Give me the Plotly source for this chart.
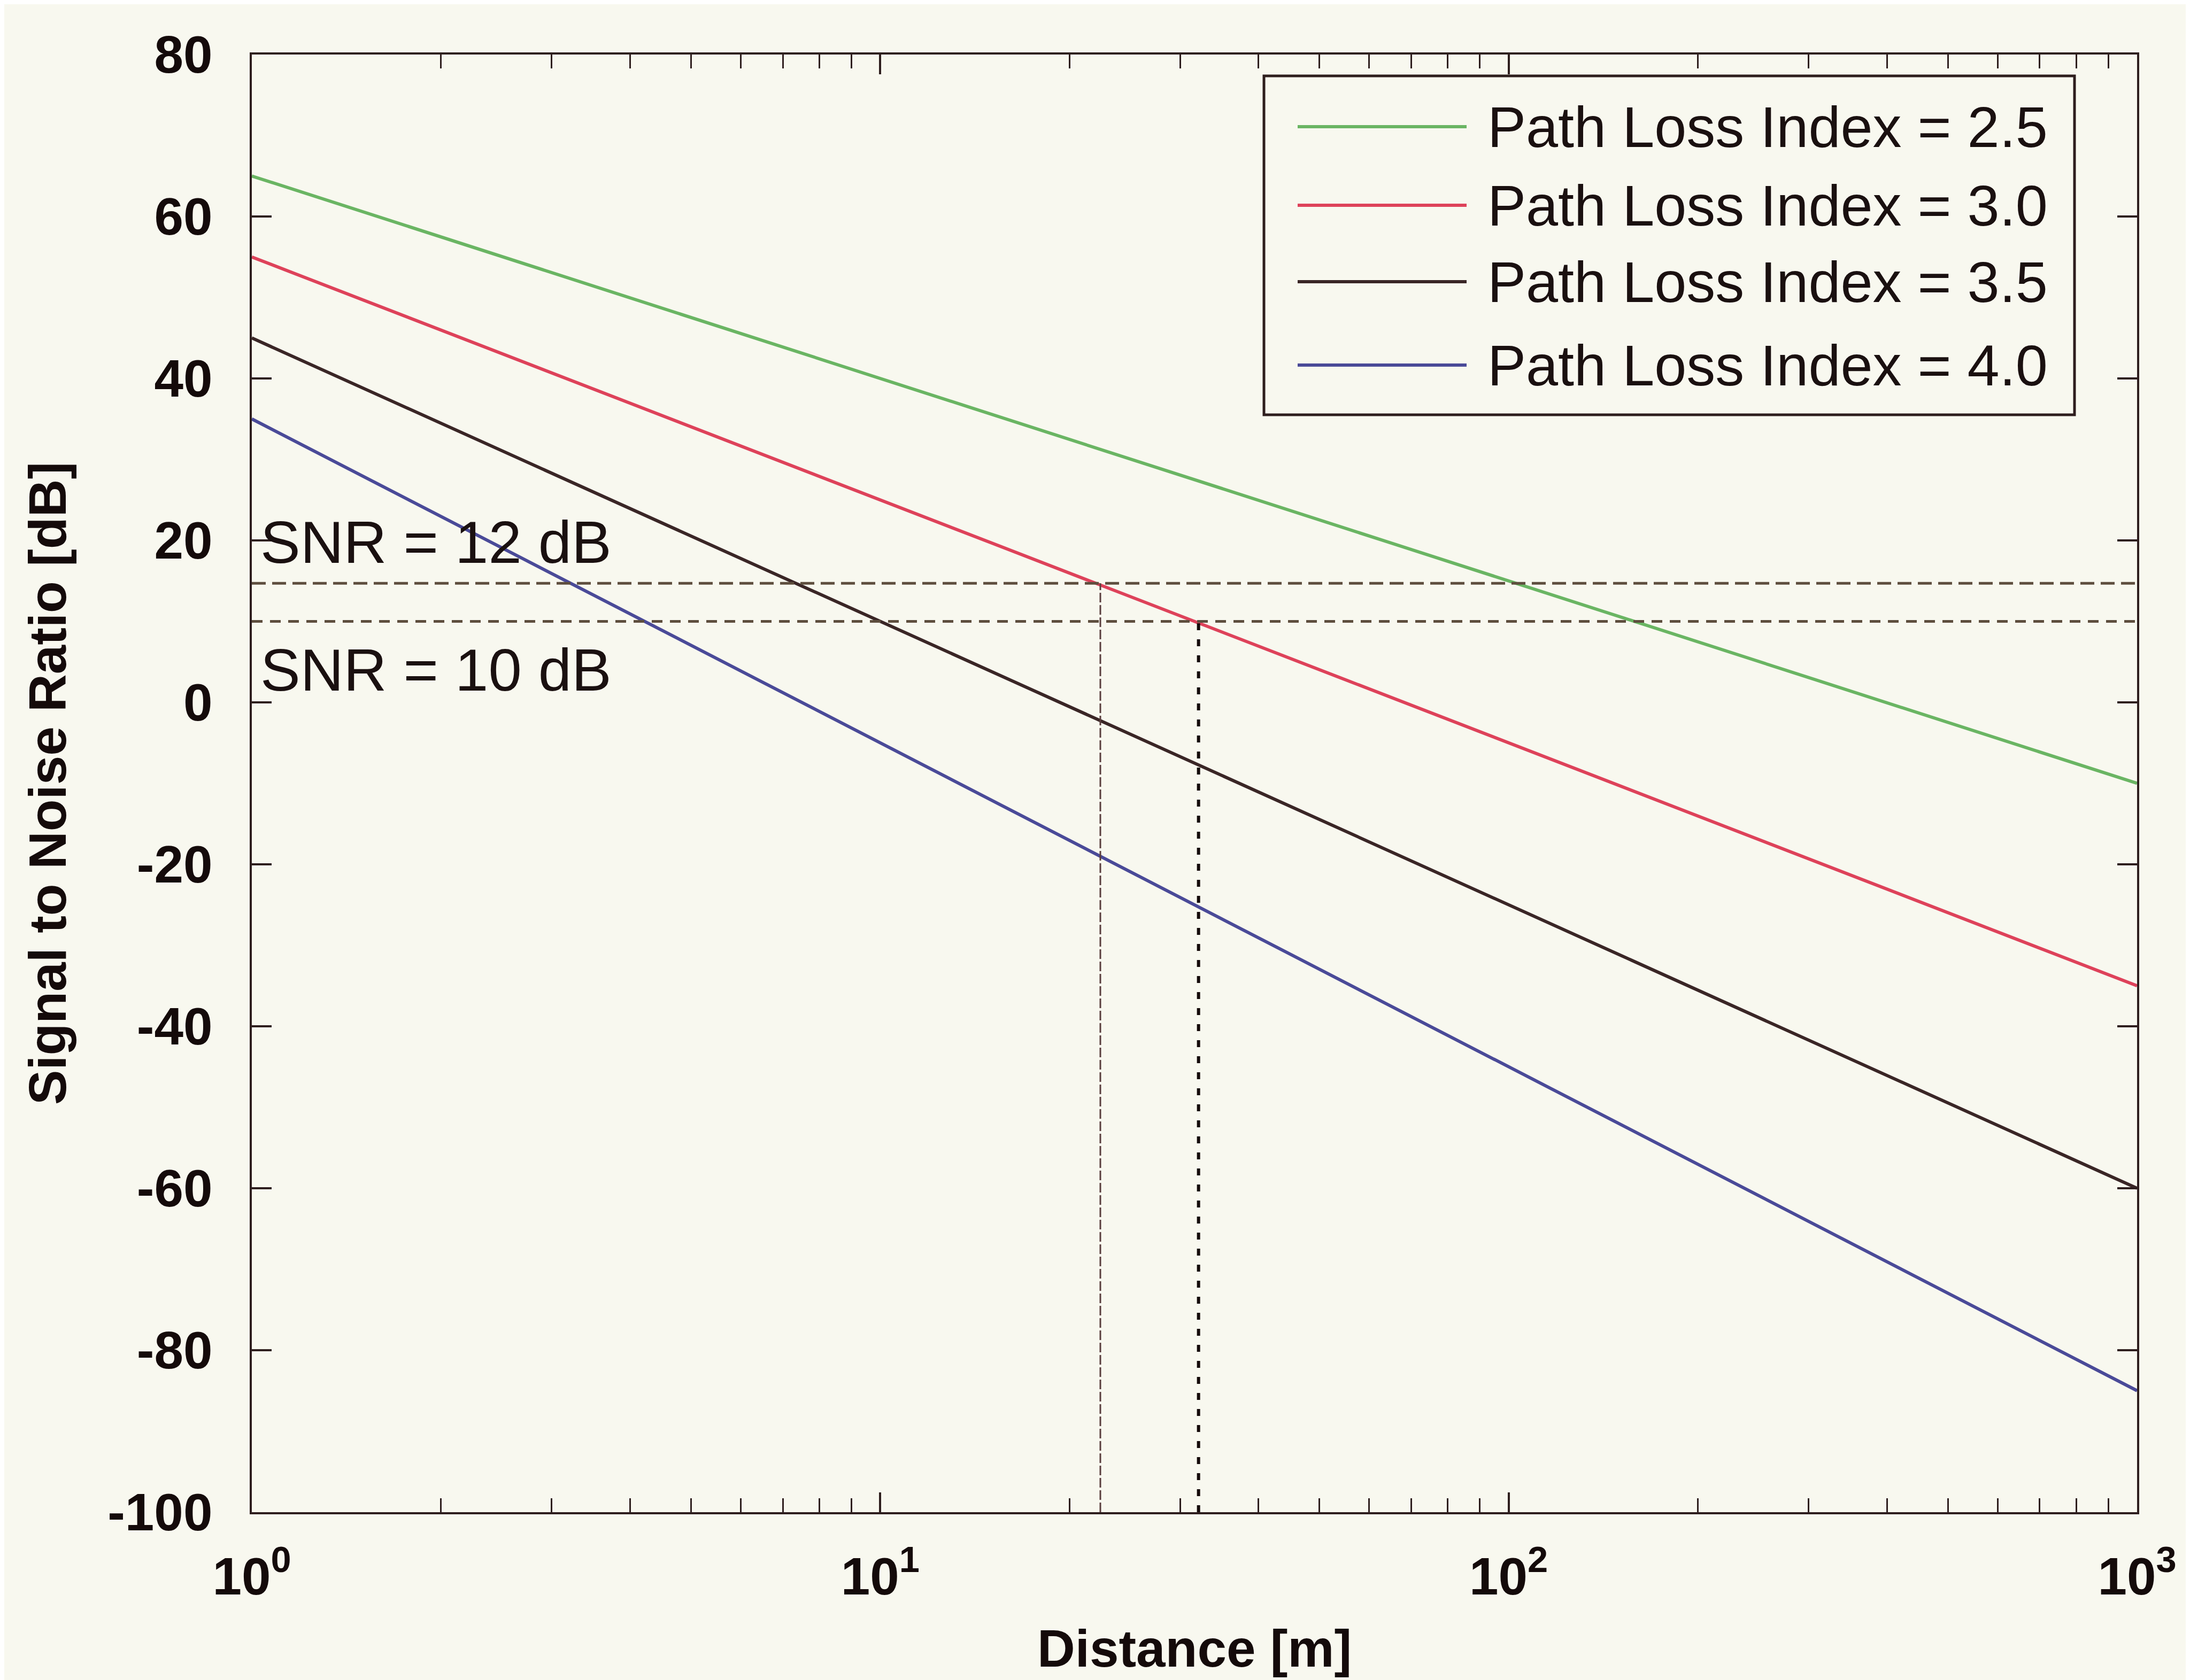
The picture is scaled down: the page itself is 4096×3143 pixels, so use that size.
import plotly.graph_objects as go

# ---------------- data ----------------
distance = [1, 10, 100, 1000]
series_names = ["Path Loss Index = 2.5", "Path Loss Index = 3.0",
                "Path Loss Index = 3.5", "Path Loss Index = 4.0"]
snr_n25 = [65, 40, 15, -10]
snr_n30 = [55, 25, -5, -35]
snr_n35 = [45, 10, -25, -60]
snr_n40 = [35, -5, -45, -85]
series_values = [snr_n25, snr_n30, snr_n35, snr_n40]
series_colors = ["#6ab563", "#de425a", "#3a2626", "#4a4a98"]

# threshold lines
thr_upper = 14.7          # line labelled "SNR = 12 dB"
thr_lower = 10.0          # line labelled "SNR = 10 dB"
thr_labels = ["SNR = 12 dB", "SNR = 10 dB"]
thr_label_y = [19.8, 4.0]
cross_upper_d = 22.4      # thin vertical line
cross_lower_d = 32.1      # thick dotted vertical line

x_tickvals = [1, 10, 100, 1000]
x_ticktext = ["10<sup>0</sup>", "10<sup>1</sup>", "10<sup>2</sup>", "10<sup>3</sup>"]
y_tickvals = [-100, -80, -60, -40, -20, 0, 20, 40, 60, 80]
y_ticktext = ["-100", "-80", "-60", "-40", "-20", "0", "20", "40", "60", "80"]

# ---------------- geometry (output pixels) ----------------
W, H = 4096, 3143
L, R, T, B = 463, 107, 94, 322
PW, PH = W - L - R, H - T - B
def px(x): return (x - L) / PW
def py(y): return (H - B - y) / PH

FONT = "Liberation Sans, Arial, Helvetica, sans-serif"
INK = "#2e1e1e"
BG = "#f8f8ef"

fig = go.Figure()
for name, vals, col in zip(series_names, series_values, series_colors):
    fig.add_trace(go.Scatter(x=distance, y=vals, mode="lines", name=name,
                             line=dict(color=col, width=6), showlegend=False))

# horizontal threshold lines
fig.add_trace(go.Scatter(x=[distance[0], distance[-1]], y=[thr_upper, thr_upper],
                         mode="lines", showlegend=False,
                         line=dict(color="#5e4e3e", width=5, dash="26px,12px")))
fig.add_trace(go.Scatter(x=[distance[0], distance[-1]], y=[thr_lower, thr_lower],
                         mode="lines", showlegend=False,
                         line=dict(color="#5e4e3e", width=5, dash="20px,14px")))
# vertical lines
fig.add_trace(go.Scatter(x=[cross_upper_d, cross_upper_d], y=[y_tickvals[0], thr_upper],
                         mode="lines", showlegend=False,
                         line=dict(color="#5a3e3e", width=3, dash="18px,5px")))
fig.add_trace(go.Scatter(x=[cross_lower_d, cross_lower_d], y=[y_tickvals[0], thr_lower],
                         mode="lines", showlegend=False,
                         line=dict(color="#140a0a", width=6, dash="13px,17px")))

# SNR labels
for txt, yv in zip(thr_labels, thr_label_y):
    fig.add_annotation(x=0.004, xref="x domain", y=yv, yref="y", text=txt,
                       showarrow=False, xanchor="left", yanchor="middle",
                       font=dict(family=FONT, size=112, color="#1a1010"))

# manual legend (MATLAB style)
bx0, bx1, by0, by1 = 2356, 3872, 134, 768
fig.add_shape(type="rect", xref="paper", yref="paper",
              x0=px(bx0), x1=px(bx1), y0=py(by1), y1=py(by0),
              line=dict(color=INK, width=5), fillcolor=BG, layer="above")
row_y = [229, 376, 519, 675]
for name, col, ry in zip(series_names, series_colors, row_y):
    fig.add_shape(type="line", xref="paper", yref="paper",
                  x0=px(2419), x1=px(2735), y0=py(ry), y1=py(ry),
                  line=dict(color=col, width=6), layer="above")
    fig.add_annotation(x=px(2772), y=py(ry), xref="paper", yref="paper",
                       text=name, showarrow=False, xanchor="left", yanchor="middle",
                       font=dict(family=FONT, size=108, color="#1a1010"))

axis_common = dict(showline=True, linecolor=INK, linewidth=4, mirror="ticks",
                   ticks="inside", tickcolor=INK, tickwidth=4, ticklen=37,
                   showgrid=False, zeroline=False,
                   tickfont=dict(family=FONT, size=98, color="#140a0a", weight="bold"))

fig.update_xaxes(type="log", range=[0, 3], tickvals=x_tickvals, ticktext=x_ticktext,
                 ticklabelstandoff=32,
                 minor=dict(ticks="inside", ticklen=26, tickcolor=INK, tickwidth=3,
                            dtick="D1", showgrid=False),
                 title=dict(text="Distance [m]", standoff=48,
                            font=dict(family=FONT, size=98, color="#140a0a", weight="bold")),
                 **axis_common)
fig.update_yaxes(range=[-100, 80], tickvals=y_tickvals, ticktext=y_ticktext,
                 ticklabelstandoff=50,
                 title=dict(text="Signal to Noise Ratio [dB]", standoff=46,
                            font=dict(family=FONT, size=98, color="#140a0a", weight="bold")),
                 **axis_common)

fig.update_layout(width=W, height=H, margin=dict(l=L, r=R, t=T, b=B, autoexpand=False),
                  paper_bgcolor=BG, plot_bgcolor=BG, showlegend=False,
                  font=dict(family=FONT))

fig.write_html("out.html")
